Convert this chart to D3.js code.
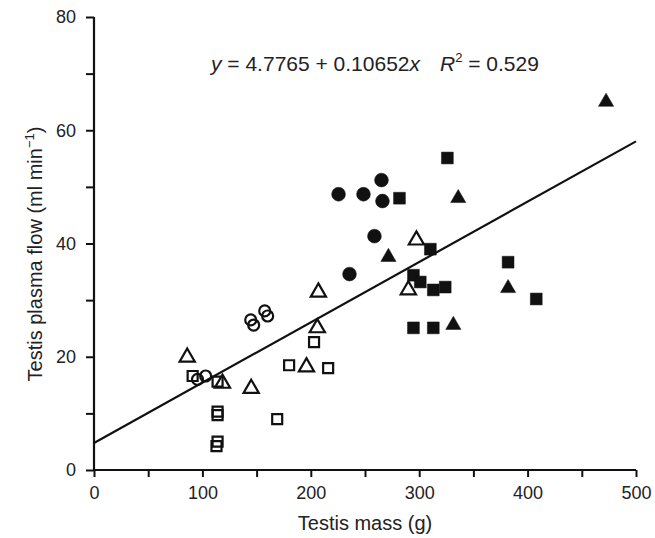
<!DOCTYPE html>
<html>
<head>
<meta charset="utf-8">
<script src="https://cdn.jsdelivr.net/npm/d3@7"></script>
<style>
  body { margin: 0; background: #fff; }
  text { font-family: "Liberation Sans", Arial, sans-serif; fill: #222; }
</style>
</head>
<body>
<svg width="655" height="538"></svg>
<script>
// values: [testis mass (g), plasma flow (ml/min)]
const filledCircles = [[225.6, 48.7], [248.6, 48.7], [265.2, 51.2], [266.1, 47.5], [258.7, 41.3], [235.7, 34.6]];
const filledSquares = [[281.8, 48.0], [326, 55.1], [310.3, 39.0], [294.7, 34.4], [301, 33.2], [313, 31.8],
  [324, 32.3], [294.7, 25.1], [313, 25.1], [382, 36.7], [408, 30.2]];
const filledTriangles = [[271.6, 37.6], [336, 48.0], [472.4, 65.0], [382, 32.1], [331.5, 25.6]];
const openCircles = [[95.5, 16.0], [103, 16.6], [144.6, 26.5], [147.3, 25.6], [157.5, 28.1], [160.2, 27.2]];
const openSquares = [[91, 16.6], [114, 15.6], [114, 10.3], [114, 9.7], [114, 5.0], [113, 4.2],
  [169, 9.0], [180, 18.5], [203, 22.6], [216, 18.0]];
const openTriangles = [[86, 19.9], [118.5, 15.3], [145, 14.4], [196, 18.2], [206, 25.1], [207, 31.4],
  [290, 31.8], [297.4, 40.6]];

const intercept = 4.7765, slope = 0.10652, r2 = 0.529;
const xTicks = [0, 100, 200, 300, 400, 500];
const yTicks = [0, 20, 40, 60, 80];

const svg = d3.select('svg');
const x = d3.scaleLinear().domain([0, 500]).range([94, 636]);
const y = d3.scaleLinear().domain([0, 80]).range([470, 17]);

// axes: major ticks labelled, minor ticks in between
const xAxis = svg.append('g').attr('transform', 'translate(0,470)')
  .call(d3.axisBottom(x).tickValues(d3.range(0, 501, 50)).tickSize(7)
    .tickFormat(d => xTicks.includes(d) ? d : ''));
const yAxis = svg.append('g').attr('transform', 'translate(94,0)')
  .call(d3.axisLeft(y).tickValues(d3.range(0, 81, 10)).tickSize(8)
    .tickFormat(d => yTicks.includes(d) ? d : ''));

[xAxis, yAxis].forEach(a => {
  a.select('.domain').attr('stroke', '#111').attr('stroke-width', 2.2)
    .attr('d', a === xAxis ? 'M94,0H636' : 'M0,470V17');
  a.selectAll('.tick line').attr('stroke', '#111').attr('stroke-width', 2);
  a.selectAll('.tick text').style('font-size', '18px').attr('fill', '#222')
    .style('font-family', '"Liberation Sans", Arial, sans-serif');
});
xAxis.selectAll('.tick text').attr('dy', '1.05em');
yAxis.selectAll('.tick text').attr('x', -18);

// regression line
svg.append('line')
  .attr('x1', x(0)).attr('y1', y(intercept))
  .attr('x2', x(500)).attr('y2', y(intercept + slope * 500))
  .attr('stroke', '#111').attr('stroke-width', 2.2);

const groups = [
  { data: filledCircles, type: d3.symbolCircle, size: 150, fill: true },
  { data: filledSquares, type: d3.symbolSquare, size: 140, fill: true },
  { data: filledTriangles, type: d3.symbolTriangle, size: 100, fill: true },
  { data: openCircles, type: d3.symbolCircle, size: 95, fill: false },
  { data: openSquares, type: d3.symbolSquare, size: 100, fill: false },
  { data: openTriangles, type: d3.symbolTriangle, size: 100, fill: false }
];

groups.forEach(g => {
  svg.append('g').selectAll('path')
    .data(g.data)
    .enter().append('path')
    .attr('transform', d => 'translate(' + x(d[0]) + ',' + y(d[1]) + ')')
    .attr('d', d3.symbol().type(g.type).size(g.size))
    .attr('fill', g.fill ? '#111' : 'none')
    .attr('stroke', '#111')
    .attr('stroke-width', g.fill ? 0.5 : 2.2);
});

// equation
const eq = svg.append('text').attr('x', 211).attr('y', 71).style('font-size', '21px');
eq.append('tspan').style('font-style', 'italic').text('y');
eq.append('tspan').text(' = ' + intercept + ' + ' + slope);
eq.append('tspan').style('font-style', 'italic').text('x');
eq.append('tspan').attr('dx', 20).style('font-style', 'italic').text('R');
eq.append('tspan').attr('dy', -9).style('font-size', '13px').text('2');
eq.append('tspan').attr('dy', 9).text(' = ' + r2);

// axis titles
svg.append('text').attr('x', 365).attr('y', 530).attr('text-anchor', 'middle')
  .style('font-size', '20px').text('Testis mass (g)');

const yl = svg.append('text').attr('transform', 'translate(42,254) rotate(-90)')
  .attr('text-anchor', 'middle').style('font-size', '20px');
yl.append('tspan').text('Testis plasma flow (ml min');
yl.append('tspan').attr('dy', -8).style('font-size', '13px').text('\u22121');
yl.append('tspan').attr('dy', 8).text(')');
</script>
</body>
</html>
